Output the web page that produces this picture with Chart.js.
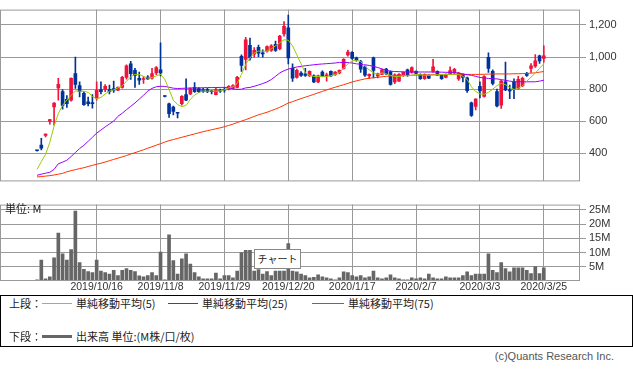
<!DOCTYPE html>
<html lang="ja">
<head>
<meta charset="utf-8">
<script src="https://cdn.jsdelivr.net/npm/chart.js@4.4.0/dist/chart.umd.min.js"></script>
<style>
  body { margin: 0; background: #fff; width: 633px; height: 369px; position: relative; overflow: hidden;
         font-family: 'Liberation Sans', 'Noto Sans CJK JP', sans-serif; color: #222; }
  #price { position: absolute; left: 0; top: 0; }
  #volume { position: absolute; left: 0; top: 195px; }
  .unit { position: absolute; left: 5px; top: 201px; font-size: 11px; font-family: 'Noto Sans CJK JP', sans-serif; line-height: 14px; }
  .chip { position: absolute; left: 254px; top: 249px; width: 45px; height: 18px; border: 1px solid #888; background: #fff;
          font-size: 10px; line-height: 18px; text-align: center; font-family: 'Noto Sans CJK JP', sans-serif; }
  .legend { position: absolute; left: 0; top: 295px; width: 631px; height: 50px; border: 1px solid #000;
            font-family: 'Noto Sans CJK JP', sans-serif; font-size: 11px; }
  .legend span { position: absolute; line-height: 14px; white-space: nowrap; }
  .legend i { position: absolute; height: 1px; }
  .copy { position: absolute; right: 19px; top: 350px; font-size: 11px; color: #555; }
</style>
</head>
<body>
<canvas id="price" width="633" height="191"></canvas>
<canvas id="volume" width="633" height="100"></canvas>
<div class="unit">単位: M</div>
<div class="chip">チャート</div>
<div class="legend">
  <span style="left:8px;top:0">上段：</span>
  <i style="left:41px;top:7px;width:30px;background:#99cc00"></i>
  <span style="left:75px;top:0">単純移動平均(5)</span>
  <i style="left:167px;top:7px;width:30px;background:#9900ff"></i>
  <span style="left:201px;top:0">単純移動平均(25)</span>
  <i style="left:311px;top:7px;width:32px;background:#ff3300"></i>
  <span style="left:347px;top:0">単純移動平均(75)</span>
  <span style="left:8px;top:33px">下段：</span>
  <i style="left:41px;top:39px;width:30px;height:3px;background:#666"></i>
  <span style="left:75px;top:33px">出来高 単位:(M株/口/枚)</span>
</div>
<div class="copy">(c)Quants Research Inc.</div>
<script>
// trading days shown on the chart
const dates = [
  '2019/9/25','2019/9/26','2019/9/27','2019/9/30','2019/10/1','2019/10/2','2019/10/3','2019/10/4','2019/10/7','2019/10/8',
  '2019/10/9','2019/10/10','2019/10/11','2019/10/15','2019/10/16','2019/10/17','2019/10/18','2019/10/21','2019/10/23','2019/10/24',
  '2019/10/25','2019/10/28','2019/10/29','2019/10/30','2019/10/31','2019/11/1','2019/11/5','2019/11/6','2019/11/7','2019/11/8',
  '2019/11/11','2019/11/12','2019/11/13','2019/11/14','2019/11/15','2019/11/18','2019/11/19','2019/11/20','2019/11/21','2019/11/22',
  '2019/11/25','2019/11/26','2019/11/27','2019/11/28','2019/11/29','2019/12/2','2019/12/3','2019/12/4','2019/12/5','2019/12/6',
  '2019/12/9','2019/12/10','2019/12/11','2019/12/12','2019/12/13','2019/12/16','2019/12/17','2019/12/18','2019/12/19','2019/12/20',
  '2019/12/23','2019/12/24','2019/12/25','2019/12/26','2019/12/27','2019/12/30','2020/1/6','2020/1/7','2020/1/8','2020/1/9',
  '2020/1/10','2020/1/14','2020/1/15','2020/1/16','2020/1/17','2020/1/20','2020/1/21','2020/1/22','2020/1/23','2020/1/24',
  '2020/1/27','2020/1/28','2020/1/29','2020/1/30','2020/1/31','2020/2/3','2020/2/4','2020/2/5','2020/2/6','2020/2/7',
  '2020/2/10','2020/2/12','2020/2/13','2020/2/14','2020/2/17','2020/2/18','2020/2/19','2020/2/20','2020/2/21','2020/2/25',
  '2020/2/26','2020/2/27','2020/2/28','2020/3/2','2020/3/3','2020/3/4','2020/3/5','2020/3/6','2020/3/9','2020/3/10',
  '2020/3/11','2020/3/12','2020/3/13','2020/3/16','2020/3/17','2020/3/18','2020/3/19','2020/3/23','2020/3/24','2020/3/25'
];

const opens = [
  418,451,511,601,690,807,785,736,732,897, 822,774,721,712,742,798,798,798,804,794,
  811,873,958,917,868,860,875,868,901,920, 756,708,689,652,710,766,770,811,804,796,
  798,786,766,790,796,798,804,811,1004,986, 1074,1018,1061,1024,1037,1042,1080,1052,1145,1183,
  930,873,901,895,883,883,845,906,883,911, 890,901,930,1014,1029,995,970,939,883,995,
  883,892,925,910,845,850,885,920,905,911, 892,866,886,911,911,886,873,892,901,864,
  892,870,715,693,817,755,999,911,785,700, 845,790,845,805,822,897,930,943,1008,992
];
const highs = [
  420,494,521,612,716,868,798,760,870,1000, 845,785,751,766,845,845,828,826,851,815,
  880,951,973,930,907,879,885,930,941,1089, 758,714,695,653,760,864,808,841,810,805,
  805,792,810,800,810,822,828,880,1014,1123, 1118,1060,1075,1045,1070,1078,1100,1135,1221,1262,
  958,925,910,930,915,890,888,915,900,915, 910,920,990,1044,1035,1000,980,945,895,1000,
  900,925,930,915,895,897,908,925,940,915, 895,895,890,986,915,890,895,939,930,905,
  895,875,720,742,845,885,1026,920,800,855, 969,826,865,880,875,905,960,1015,1012,1070
];
const lows = [
  414,422,503,582,575,732,676,686,725,804, 751,698,695,682,732,771,785,771,779,790,
  806,862,860,811,830,836,860,862,890,883, 752,624,640,620,700,728,765,779,778,780,
  778,770,764,780,782,795,800,808,911,920, 980,1000,1002,1000,1030,1035,1035,1045,1131,958,
  849,868,880,880,880,840,840,880,850,880, 885,895,925,1005,985,975,905,880,865,870,
  870,890,890,825,835,848,880,880,900,895, 860,860,865,905,885,860,870,890,895,855,
  845,780,630,670,745,750,904,826,690,680, 790,741,740,800,815,880,905,935,960,969
];
const closes = [
  416,432,520,610,714,830,699,710,868,830, 785,704,710,710,793,785,817,785,793,811,
  873,945,897,886,856,862,864,897,935,901, 754,648,661,650,755,732,804,785,785,786,
  785,784,798,788,793,817,822,873,948,1108, 995,1042,1024,1020,1065,1070,1042,1131,1192,995,
  868,917,885,886,911,845,883,883,890,883, 906,917,986,1031,992,980,925,888,892,917,
  896,920,895,830,890,892,905,888,935,898, 866,892,868,939,888,866,892,916,924,901,
  873,790,637,738,789,879,930,836,695,851, 795,789,800,862,868,886,946,976,976,1008
];

// volume in millions
const volumes = [
  0.4,7.4,0.8,1.5,8.2,16.9,9.6,7.4,11.1,24.6, 6.5,4.1,3.3,3.0,7.4,3.5,3.0,2.4,3.8,1.9,
  3.8,4.4,3.8,3.3,1.8,1.5,1.9,3.0,1.9,10.2, 0.4,16.3,7.2,2.4,7.8,9.6,6.0,3.0,1.5,0.8,
  0.8,0.8,2.8,0.8,1.9,1.9,1.1,3.5,10.0,10.8, 10.8,3.5,4.0,2.4,3.3,1.9,3.5,3.5,3.5,13.2,
  3.5,3.2,2.4,1.9,1.1,1.3,2.2,1.5,1.1,0.8, 0.4,1.1,3.2,3.0,1.9,1.5,1.9,1.1,1.5,3.5,
  1.1,0.8,1.1,2.2,1.1,0.8,0.4,0.4,1.1,0.8, 1.1,0.8,2.4,1.1,0.8,0.8,1.5,1.1,1.1,1.1,
  1.9,3.2,1.9,2.4,2.4,2.4,9.6,3.8,3.0,6.5, 4.4,3.2,4.6,4.6,4.6,3.8,2.6,5.1,2.6,4.6
];

// moving averages as drawn on the chart
const ma5 = [
  300,348,394,469,570,648,699,732,761,789, 787,787,780,755,740,749,770,787,796,808,
  821,849,877,892,892,880,868,873,883,892, 861,798,732,704,691,699,736,764,779,789,
  787,789,787,789,796,808,814,836,892,954, 995,1024,1037,1037,1037,1052,1070,1089,1108,1105,
  1070,1014,958,901,886,879,879,879,879,883, 892,905,930,958,976,980,973,943,920,901,
  892,901,895,886,879,879,884,883,886,892, 890,888,886,888,890,890,892,892,892,892,
  880,860,815,785,770,768,780,800,822,836, 828,812,798,805,820,850,875,900,930,958
];
const ma25 = [
  263,270,276,282,300,335,345,357,380,405, 430,450,475,500,526,545,565,583,601,631,
  650,672,693,714,738,762,788,805,815,818, 817,812,806,804,805,806,807,808,808,809,
  810,810,810,811,811,808,802,798,800,808, 811,818,826,835,845,860,880,901,915,925,
  933,938,942,946,949,952,955,957,959,961, 963,967,967,966,963,958,955,952,948,942,
  935,926,918,912,910,909,908,907,907,907, 907,907,907,907,906,906,905,905,904,900,
  895,890,886,880,873,870,867,865,864,860, 855,850,847,846,846,846,846,846,850,856
];
const ma75 = [
  253,255,258,261,265,270,275,285,292,298, 305,310,318,325,332,338,346,354,362,370,
  378,386,396,404,413,422,432,441,451,460, 470,479,486,493,500,507,514,521,528,535,
  541,547,553,559,566,574,582,592,601,610, 620,630,640,648,656,666,676,687,700,714,
  722,732,741,750,759,768,777,786,795,804, 812,820,828,836,845,852,858,864,868,871,
  874,877,880,882,883,884,885,886,887,888, 888,889,889,890,890,891,891,892,892,892,
  892,892,892,892,892,893,894,894,895,895, 895,895,896,896,897,898,900,902,906,910
];

const xTickLabels = ['2019/10/16','2019/11/8','2019/11/29','2019/12/20','2020/1/17','2020/2/7','2020/3/3','2020/3/25'];
const priceTicks = [400, 600, 800, 1000, 1200];
const volumeTicks = [5, 10, 15, 20, 25];

// --- styles ---
const UP = '#f0143c', DOWN = '#003399', GRID = '#999999';
const X_MIN = -8.7, X_MAX = 127.5;
const FONT = "'Liberation Sans', 'Noto Sans CJK JP', sans-serif";
const tickIdx = xTickLabels.map(d => dates.indexOf(d));
const idx = dates.map((_, i) => i);
const candleColor = ctx => closes[ctx.dataIndex] >= opens[ctx.dataIndex] ? UP : DOWN;

// gray frame round the plot area
const frame = {
  id: 'frame',
  afterDraw(chart) {
    const a = chart.chartArea, c = chart.ctx;
    c.save();
    c.strokeStyle = GRID;
    c.lineWidth = 1;
    c.strokeRect(a.left + 0.5, a.top + 0.5, a.right - a.left - 1, a.bottom - a.top - 1);
    c.restore();
  }
};

function xScale(showLabels) {
  return {
    type: 'linear', min: X_MIN, max: X_MAX, offset: false,
    afterBuildTicks: s => { s.ticks = tickIdx.map(v => ({ value: v })); },
    ticks: {
      display: showLabels, autoSkip: false, maxRotation: 0, padding: 0,
      color: '#333', font: { size: 10.5, family: FONT },
      callback: v => dates[v] || ''
    },
    grid: { color: GRID, drawTicks: false, offset: false },
    border: { display: false },
    afterFit: s => { s.height = showLabels ? 14 : 0; }
  };
}

function yScale(min, max, ticks, fmt) {
  return {
    position: 'right', min, max,
    afterBuildTicks: s => { s.ticks = ticks.map(v => ({ value: v })); },
    ticks: { color: '#333', font: { size: 11, family: FONT }, padding: 3, callback: fmt },
    grid: { color: GRID, tickLength: 6 },
    border: { display: false },
    afterFit: s => { s.width = 53; }
  };
}

const common = {
  responsive: false,
  animation: false,
  events: [],
  plugins: { legend: { display: false }, tooltip: { enabled: false } }
};

// --- price panel ---
new Chart(document.getElementById('price'), {
  data: {
    datasets: [
      { type: 'line', data: idx.map(i => ({ x: i, y: ma5[i] })), borderColor: '#99cc00', borderWidth: 1, pointRadius: 0, order: 1 },
      { type: 'line', data: idx.map(i => ({ x: i, y: ma25[i] })), borderColor: '#9900ff', borderWidth: 1, pointRadius: 0, order: 1 },
      { type: 'line', data: idx.map(i => ({ x: i, y: ma75[i] })), borderColor: '#ff3300', borderWidth: 1, pointRadius: 0, order: 1 },
      { type: 'bar', data: idx.map(i => ({ x: i, y: [opens[i], closes[i]] })), backgroundColor: candleColor,
        barThickness: 3, minBarLength: 1, grouped: false, order: 2 },
      { type: 'bar', data: idx.map(i => ({ x: i, y: [lows[i], highs[i]] })), backgroundColor: candleColor,
        barThickness: 1, grouped: false, order: 3 }
    ]
  },
  options: Object.assign({}, common, {
    layout: { padding: 0 },
    scales: {
      x: xScale(false),
      y: yScale(225, 1296, priceTicks, v => v.toLocaleString('en-US'))
    }
  }),
  plugins: [frame]
});

// --- volume panel ---
new Chart(document.getElementById('volume'), {
  data: {
    datasets: [
      { type: 'bar', data: idx.map(i => ({ x: i, y: volumes[i] })), backgroundColor: '#666666',
        barThickness: 3, grouped: false }
    ]
  },
  options: Object.assign({}, common, {
    layout: { padding: { top: 5, left: 0, right: 0, bottom: 0 } },
    scales: {
      x: xScale(true),
      y: yScale(0, 26.9, volumeTicks, v => v + 'M')
    }
  }),
  plugins: [frame]
});
</script>
</body>
</html>
